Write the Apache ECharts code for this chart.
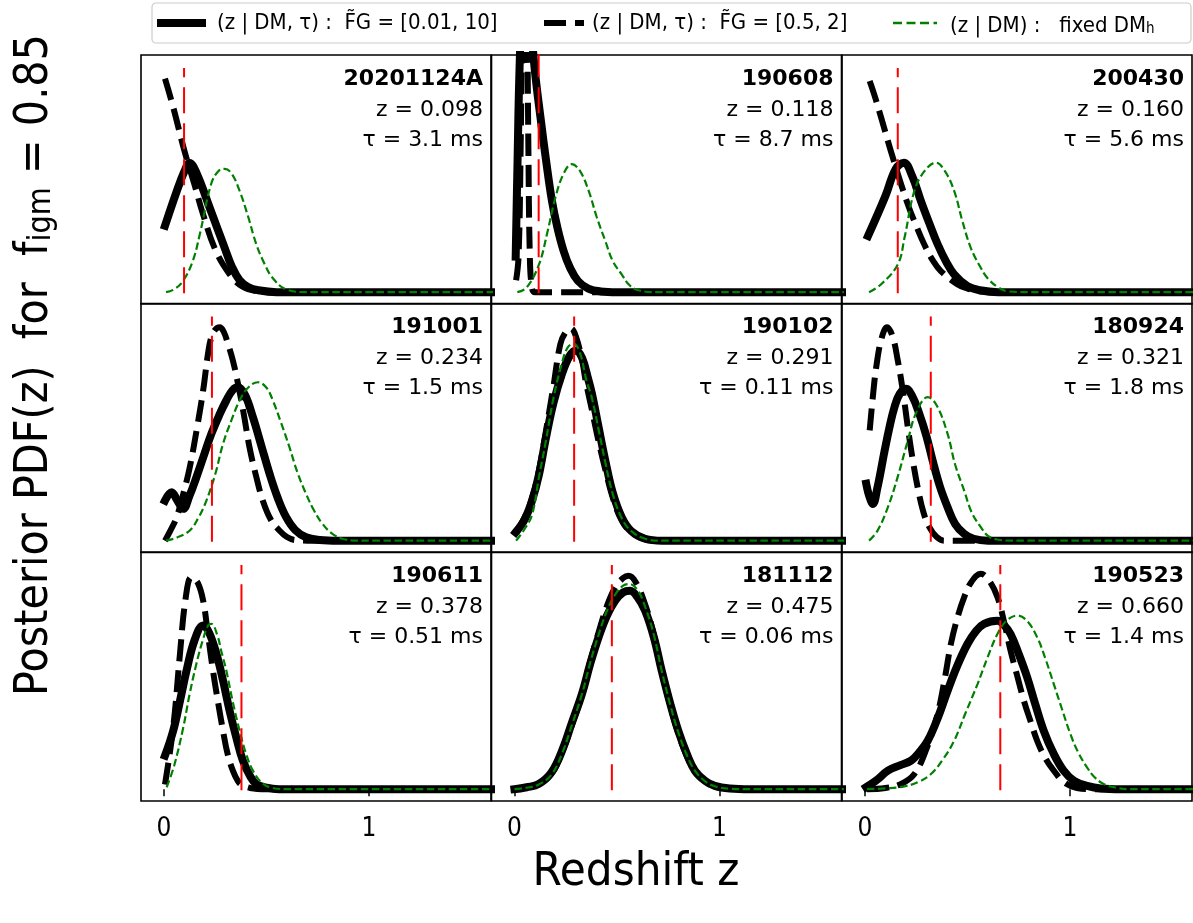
<!DOCTYPE html>
<html>
<head>
<meta charset="utf-8">
<script src="https://cdn.jsdelivr.net/npm/echarts@6/dist/echarts.min.js"></script>
<style>
    html, body { margin: 0; padding: 0; background: #fff; }
    #chart { width: 1193px; height: 923px; }
</style>
</head>
<body>
<div id="chart"></div>
<script>
// 每个面板的 FRB 名称、红移、散射时间
var frbNames = ['20201124A', '190608', '200430', '191001', '190102', '180924', '190611', '181112', '190523'];
var frbZ = [0.098, 0.118, 0.160, 0.234, 0.291, 0.321, 0.378, 0.475, 0.660];
var frbTau = ['3.1', '8.7', '5.6', '1.5', '0.11', '1.8', '0.51', '0.06', '1.4'];
var xTicks = [0, 1];
var redTop = [0.945, 1.2, 0.945, 0.945, 0.945, 0.945, 0.945, 0.945, 0.945];

// P(z|DM,tau), FG = [0.01, 10]  —— [z, pdf]
var solidCurves = [
    [[0.005, 0.28], [0.06, 0.42], [0.1, 0.51], [0.125, 0.545], [0.16, 0.5], [0.223, 0.356], [0.26, 0.27], [0.296, 0.187], [0.33, 0.11], [0.369, 0.05], [0.41, 0.022], [0.46, 0.008], [0.55, 0], [1.7, 0]],
    [[0.006, 0.15], [0.015, 0.55], [0.025, 0.95], [0.04, 1.25], [0.055, 1.32], [0.07, 1.25], [0.085, 1.08], [0.1, 0.93], [0.127, 0.736], [0.155, 0.55], [0.183, 0.384], [0.21, 0.27], [0.24, 0.173], [0.27, 0.105], [0.31, 0.047], [0.36, 0.015], [0.42, 0.003], [0.5, 0], [1.7, 0]],
    [[0.015, 0.237], [0.1, 0.406], [0.15, 0.52], [0.19, 0.546], [0.23, 0.49], [0.273, 0.384], [0.314, 0.29], [0.354, 0.203], [0.395, 0.13], [0.435, 0.075], [0.5, 0.025], [0.56, 0.008], [0.65, 0], [1.7, 0]],
    [[0.005, 0.169], [0.037, 0.204], [0.065, 0.17], [0.094, 0.134], [0.125, 0.19], [0.158, 0.267], [0.195, 0.36], [0.231, 0.45], [0.27, 0.53], [0.304, 0.591], [0.335, 0.635], [0.361, 0.647], [0.395, 0.615], [0.434, 0.52], [0.475, 0.4], [0.515, 0.282], [0.555, 0.18], [0.596, 0.099], [0.64, 0.045], [0.693, 0.014], [0.76, 0.003], [0.85, 0], [1.7, 0]],
    [[0.006, 0.035], [0.05, 0.09], [0.086, 0.169], [0.12, 0.28], [0.151, 0.422], [0.19, 0.58], [0.232, 0.704], [0.27, 0.78], [0.3, 0.802], [0.33, 0.77], [0.36, 0.68], [0.378, 0.619], [0.41, 0.48], [0.443, 0.338], [0.48, 0.2], [0.523, 0.099], [0.57, 0.04], [0.637, 0.008], [0.72, 0], [1.7, 0]],
    [[0.006, 0.24], [0.02, 0.19], [0.039, 0.155], [0.06, 0.22], [0.096, 0.38], [0.12, 0.48], [0.144, 0.563], [0.17, 0.62], [0.2, 0.64], [0.23, 0.61], [0.265, 0.535], [0.3, 0.44], [0.33, 0.338], [0.365, 0.23], [0.403, 0.141], [0.44, 0.07], [0.484, 0.029], [0.53, 0.008], [0.6, 0], [1.7, 0]],
    [[0.005, 0.141], [0.045, 0.246], [0.08, 0.38], [0.11, 0.5], [0.15, 0.63], [0.191, 0.69], [0.22, 0.66], [0.256, 0.57], [0.29, 0.45], [0.32, 0.331], [0.355, 0.21], [0.385, 0.12], [0.42, 0.055], [0.45, 0.022], [0.5, 0.006], [0.56, 0], [1.7, 0]],
    [[0.0, 0.0], [0.06, 0.008], [0.119, 0.022], [0.18, 0.07], [0.232, 0.162], [0.28, 0.28], [0.329, 0.401], [0.37, 0.53], [0.41, 0.64], [0.45, 0.73], [0.491, 0.795], [0.53, 0.83], [0.564, 0.837], [0.6, 0.81], [0.637, 0.753], [0.68, 0.64], [0.718, 0.5], [0.76, 0.36], [0.799, 0.246], [0.84, 0.15], [0.88, 0.078], [0.93, 0.035], [0.977, 0.014], [1.05, 0.003], [1.15, 0], [1.7, 0]],
    [[0.006, 0.008], [0.06, 0.04], [0.112, 0.078], [0.17, 0.1], [0.225, 0.12], [0.265, 0.155], [0.306, 0.204], [0.355, 0.3], [0.403, 0.415], [0.45, 0.52], [0.5, 0.612], [0.54, 0.665], [0.581, 0.697], [0.646, 0.71], [0.68, 0.69], [0.71, 0.654], [0.75, 0.57], [0.791, 0.472], [0.83, 0.36], [0.872, 0.246], [0.92, 0.15], [0.969, 0.078], [1.02, 0.035], [1.083, 0.014], [1.15, 0.003], [1.25, 0], [1.7, 0]]
];

// P(z|DM,tau), FG = [0.5, 2]
var dashedCurves = [
    [[0.005, 0.9], [0.045, 0.78], [0.1, 0.595], [0.15, 0.45], [0.19, 0.33], [0.25, 0.18], [0.32, 0.076], [0.38, 0.025], [0.45, 0.005], [0.55, 0], [1.7, 0]],
    [[0.008, 0.05], [0.02, 0.15], [0.03, 0.6], [0.04, 1.3], [0.05, 1.6], [0.06, 1.3], [0.068, 0.6], [0.075, 0.15], [0.085, 0.02], [0.1, 0], [1.7, 0]],
    [[0.023, 0.89], [0.05, 0.82], [0.079, 0.736], [0.136, 0.567], [0.209, 0.37], [0.25, 0.28], [0.29, 0.2], [0.33, 0.135], [0.37, 0.089], [0.45, 0.033], [0.5, 0.015], [0.55, 0.005], [0.62, 0], [1.7, 0]],
    [[0.005, 0], [0.03, 0.04], [0.062, 0.099], [0.095, 0.2], [0.126, 0.31], [0.16, 0.47], [0.191, 0.633], [0.215, 0.79], [0.231, 0.858], [0.25, 0.89], [0.272, 0.9], [0.292, 0.88], [0.312, 0.83], [0.336, 0.76], [0.361, 0.662], [0.39, 0.53], [0.417, 0.394], [0.45, 0.27], [0.482, 0.169], [0.52, 0.09], [0.563, 0.043], [0.6, 0.015], [0.636, 0.003], [0.7, 0], [1.7, 0]],
    [[0.006, 0.03], [0.05, 0.1], [0.086, 0.18], [0.12, 0.3], [0.151, 0.45], [0.19, 0.65], [0.224, 0.83], [0.25, 0.88], [0.275, 0.895], [0.3, 0.86], [0.33, 0.76], [0.346, 0.68], [0.378, 0.55], [0.41, 0.42], [0.443, 0.3], [0.48, 0.18], [0.523, 0.085], [0.57, 0.035], [0.637, 0.006], [0.72, 0], [1.7, 0]],
    [[0.023, 0.465], [0.04, 0.62], [0.055, 0.732], [0.08, 0.85], [0.108, 0.9], [0.135, 0.86], [0.16, 0.76], [0.185, 0.63], [0.209, 0.478], [0.233, 0.34], [0.257, 0.225], [0.285, 0.12], [0.314, 0.057], [0.35, 0.015], [0.387, 0], [1.7, 0]],
    [[0.005, 0.02], [0.045, 0.26], [0.078, 0.57], [0.105, 0.8], [0.134, 0.894], [0.165, 0.87], [0.191, 0.795], [0.215, 0.65], [0.239, 0.5], [0.265, 0.36], [0.288, 0.246], [0.31, 0.15], [0.336, 0.078], [0.36, 0.035], [0.377, 0.02], [0.42, 0.005], [0.5, 0], [1.7, 0]],
    [[0.0, 0.0], [0.06, 0.008], [0.119, 0.02], [0.18, 0.065], [0.232, 0.155], [0.28, 0.27], [0.329, 0.4], [0.37, 0.54], [0.41, 0.66], [0.45, 0.77], [0.491, 0.85], [0.53, 0.89], [0.556, 0.9], [0.59, 0.875], [0.637, 0.78], [0.68, 0.65], [0.718, 0.5], [0.76, 0.35], [0.799, 0.235], [0.84, 0.14], [0.88, 0.075], [0.93, 0.032], [0.977, 0.012], [1.05, 0.002], [1.15, 0], [1.7, 0]],
    [[0.01, 0], [0.1, 0.005], [0.176, 0.022], [0.241, 0.064], [0.3, 0.17], [0.354, 0.317], [0.39, 0.47], [0.419, 0.612], [0.45, 0.72], [0.484, 0.81], [0.52, 0.875], [0.565, 0.908], [0.605, 0.88], [0.646, 0.81], [0.68, 0.7], [0.71, 0.584], [0.745, 0.47], [0.775, 0.373], [0.81, 0.28], [0.84, 0.204], [0.88, 0.13], [0.921, 0.078], [0.97, 0.03], [1.034, 0.005], [1.1, 0], [1.7, 0]]
];

// P(z|DM), fixed DM_h
var greenCurves = [
    [[0.01, 0], [0.05, 0.012], [0.093, 0.047], [0.14, 0.13], [0.175, 0.245], [0.23, 0.456], [0.265, 0.51], [0.296, 0.52], [0.33, 0.5], [0.369, 0.427], [0.41, 0.32], [0.45, 0.203], [0.49, 0.12], [0.53, 0.06], [0.6, 0.01], [0.7, 0], [1.7, 0]],
    [[0.014, 0], [0.06, 0.02], [0.12, 0.118], [0.16, 0.25], [0.2, 0.4], [0.24, 0.5], [0.28, 0.54], [0.32, 0.51], [0.362, 0.427], [0.4, 0.32], [0.443, 0.216], [0.48, 0.13], [0.523, 0.075], [0.56, 0.03], [0.604, 0.008], [0.7, 0], [1.7, 0]],
    [[0.02, 0], [0.079, 0.033], [0.16, 0.117], [0.193, 0.23], [0.241, 0.427], [0.29, 0.51], [0.346, 0.546], [0.39, 0.51], [0.435, 0.427], [0.475, 0.3], [0.516, 0.187], [0.56, 0.11], [0.597, 0.06], [0.65, 0.02], [0.7, 0.003], [0.8, 0], [1.7, 0]],
    [[0.01, 0], [0.06, 0.012], [0.126, 0.043], [0.17, 0.1], [0.207, 0.169], [0.25, 0.28], [0.288, 0.408], [0.33, 0.51], [0.369, 0.591], [0.41, 0.645], [0.458, 0.668], [0.5, 0.645], [0.531, 0.591], [0.57, 0.5], [0.612, 0.394], [0.65, 0.29], [0.693, 0.197], [0.73, 0.13], [0.773, 0.071], [0.82, 0.03], [0.87, 0.008], [0.95, 0], [1.7, 0]],
    [[0.008, 0], [0.05, 0.05], [0.086, 0.11], [0.12, 0.27], [0.151, 0.41], [0.19, 0.6], [0.232, 0.75], [0.26, 0.815], [0.289, 0.83], [0.32, 0.79], [0.35, 0.68], [0.378, 0.6], [0.41, 0.47], [0.443, 0.33], [0.48, 0.195], [0.523, 0.095], [0.57, 0.04], [0.637, 0.008], [0.72, 0], [1.7, 0]],
    [[0.02, 0], [0.06, 0.04], [0.112, 0.141], [0.16, 0.27], [0.209, 0.422], [0.25, 0.54], [0.306, 0.605], [0.35, 0.57], [0.403, 0.45], [0.44, 0.32], [0.484, 0.211], [0.52, 0.12], [0.565, 0.057], [0.6, 0.02], [0.645, 0.005], [0.72, 0], [1.7, 0]],
    [[0.013, 0.008], [0.05, 0.1], [0.094, 0.26], [0.125, 0.4], [0.158, 0.528], [0.19, 0.63], [0.215, 0.69], [0.231, 0.697], [0.26, 0.65], [0.28, 0.58], [0.304, 0.5], [0.335, 0.37], [0.369, 0.246], [0.4, 0.15], [0.434, 0.078], [0.48, 0.025], [0.53, 0.005], [0.6, 0], [1.7, 0]],
    [[0.0, 0], [0.06, 0.006], [0.119, 0.02], [0.18, 0.06], [0.232, 0.15], [0.28, 0.27], [0.329, 0.4], [0.37, 0.535], [0.41, 0.65], [0.45, 0.75], [0.491, 0.82], [0.53, 0.858], [0.56, 0.865], [0.6, 0.84], [0.637, 0.77], [0.68, 0.65], [0.718, 0.5], [0.76, 0.355], [0.799, 0.24], [0.84, 0.145], [0.88, 0.078], [0.93, 0.033], [0.977, 0.012], [1.05, 0.002], [1.15, 0], [1.7, 0]],
    [[0.01, 0], [0.1, 0.003], [0.193, 0.012], [0.26, 0.03], [0.322, 0.064], [0.38, 0.125], [0.435, 0.204], [0.49, 0.32], [0.549, 0.443], [0.6, 0.56], [0.646, 0.654], [0.69, 0.71], [0.743, 0.732], [0.79, 0.71], [0.84, 0.64], [0.88, 0.55], [0.921, 0.443], [0.96, 0.34], [1.002, 0.232], [1.04, 0.155], [1.083, 0.092], [1.12, 0.05], [1.164, 0.022], [1.22, 0.007], [1.28, 0], [1.7, 0]]
];

(function () {
    var chart = echarts.init(document.getElementById('chart'));

    var colLeft = [141, 491.5, 842];
    var rowTop = [55, 303.5, 552];
    var panelW = 350, panelH = 249;
    var plain = '"DejaVu Sans", sans-serif';
    var narrow = '"DejaVu Sans Condensed", "Liberation Sans Narrow", "DejaVu Sans", sans-serif';

    var grids = [], xAxes = [], yAxes = [], series = [], graphics = [];

    function lineSeries(i, data, lineStyle) {
        return {
            type: 'line',
            xAxisIndex: i,
            yAxisIndex: i,
            data: data,
            symbol: 'none',
            smooth: 0.4,
            clip: true,
            silent: true,
            lineStyle: lineStyle
        };
    }

    frbNames.forEach(function (name, i) {
        var col = i % 3, row = Math.floor(i / 3);
        var left = colLeft[col], top = rowTop[row];
        var bottomRow = row === 2;

        grids.push({
            left: left, top: top, width: panelW, height: panelH,
            show: true, borderColor: '#000', borderWidth: 1.6, backgroundColor: 'transparent'
        });
        xAxes.push({
            gridIndex: i, type: 'value', min: -0.112, max: 1.595,
            axisLine: { show: false },
            splitLine: { show: false },
            axisTick: { show: bottomRow, length: 7, lineStyle: { color: '#000', width: 1.5 }, customValues: xTicks },
            axisLabel: { show: bottomRow, customValues: xTicks, margin: 15, color: '#000', fontSize: 26, fontFamily: narrow }
        });
        yAxes.push({ gridIndex: i, type: 'value', min: -0.05, max: 1.0, show: false });

        series.push(lineSeries(i, solidCurves[i], { color: '#000', width: 8, cap: 'square', join: 'round' }));
        series.push(lineSeries(i, dashedCurves[i], { color: '#000', width: 6, type: [22, 9], join: 'round' }));
        series.push(lineSeries(i, greenCurves[i], { color: '#008000', width: 2.2, type: [7.5, 3.5] }));
        series.push({
            type: 'line', xAxisIndex: i, yAxisIndex: i, symbol: 'none', silent: true, clip: true,
            data: [[frbZ[i], -0.005], [frbZ[i], redTop[i]]],
            lineStyle: { color: '#ff0000', width: 2, type: [26, 10] }
        });

        // 右上角文字
        var tx = left + panelW - 8;
        graphics.push({ type: 'text', x: tx, y: top + 24, style: { text: name, fill: '#000', fontSize: 22, fontWeight: 'bold', fontFamily: plain, textAlign: 'right', textVerticalAlign: 'middle' } });
        graphics.push({ type: 'text', x: tx, y: top + 55, style: { text: 'z = ' + frbZ[i].toFixed(3), fill: '#000', fontSize: 22, fontFamily: plain, textAlign: 'right', textVerticalAlign: 'middle' } });
        graphics.push({ type: 'text', x: tx, y: top + 85, style: { text: 'τ = ' + frbTau[i] + ' ms', fill: '#000', fontSize: 22, fontFamily: plain, textAlign: 'right', textVerticalAlign: 'middle' } });
    });

    // 图例
    graphics.push({ type: 'rect', shape: { x: 152, y: 3, width: 1039, height: 40, r: 4 }, style: { fill: '#fff', stroke: '#cccccc', lineWidth: 1.2 } });
    graphics.push({ type: 'line', shape: { x1: 157, y1: 23, x2: 206, y2: 23 }, style: { stroke: '#000', lineWidth: 8 } });
    graphics.push({ type: 'line', shape: { x1: 544, y1: 23, x2: 584, y2: 23 }, style: { stroke: '#000', lineWidth: 6, lineDash: [22, 9] } });
    graphics.push({ type: 'line', shape: { x1: 893, y1: 23, x2: 937, y2: 23 }, style: { stroke: '#008000', lineWidth: 2.5, lineDash: [9, 4.5] } });
    var legendFont = { fill: '#000', fontSize: 22, fontFamily: narrow, textVerticalAlign: 'middle' };
    graphics.push({ type: 'text', x: 217, y: 23, style: Object.assign({ text: '(z | DM, τ) :  F\u0303G = [0.01, 10]' }, legendFont) });
    graphics.push({ type: 'text', x: 592, y: 23, style: Object.assign({ text: '(z | DM, τ) :  F\u0303G = [0.5, 2]' }, legendFont) });
    graphics.push({
        type: 'text', x: 950, y: 23,
        style: Object.assign({
            text: '{a|(z | DM) :   fixed DM}{s|h}',
            rich: {
                a: { fontSize: 22, fontFamily: narrow, lineHeight: 28, verticalAlign: 'bottom' },
                s: { fontSize: 15, fontFamily: narrow, lineHeight: 19, verticalAlign: 'bottom' }
            }
        }, legendFont)
    });

    // 坐标轴标题
    graphics.push({
        type: 'text', x: 32, y: 365, rotation: Math.PI / 2,
        style: {
            text: '{a|Posterior PDF(z)  for  f}{s|igm}{a| = 0.85}',
            fill: '#000', textAlign: 'center', textVerticalAlign: 'middle',
            rich: {
                a: { fontSize: 46, fontFamily: narrow, lineHeight: 52, verticalAlign: 'bottom' },
                s: { fontSize: 32, fontFamily: narrow, lineHeight: 36, verticalAlign: 'bottom' }
            }
        }
    });
    graphics.push({ type: 'text', x: 636, y: 873, style: { text: 'Redshift z', fill: '#000', fontSize: 47, fontFamily: narrow, textAlign: 'center', textVerticalAlign: 'middle' } });

    chart.setOption({
        animation: false,
        grid: grids,
        xAxis: xAxes,
        yAxis: yAxes,
        series: series,
        graphic: graphics
    });
})();
</script>
</body>
</html>
